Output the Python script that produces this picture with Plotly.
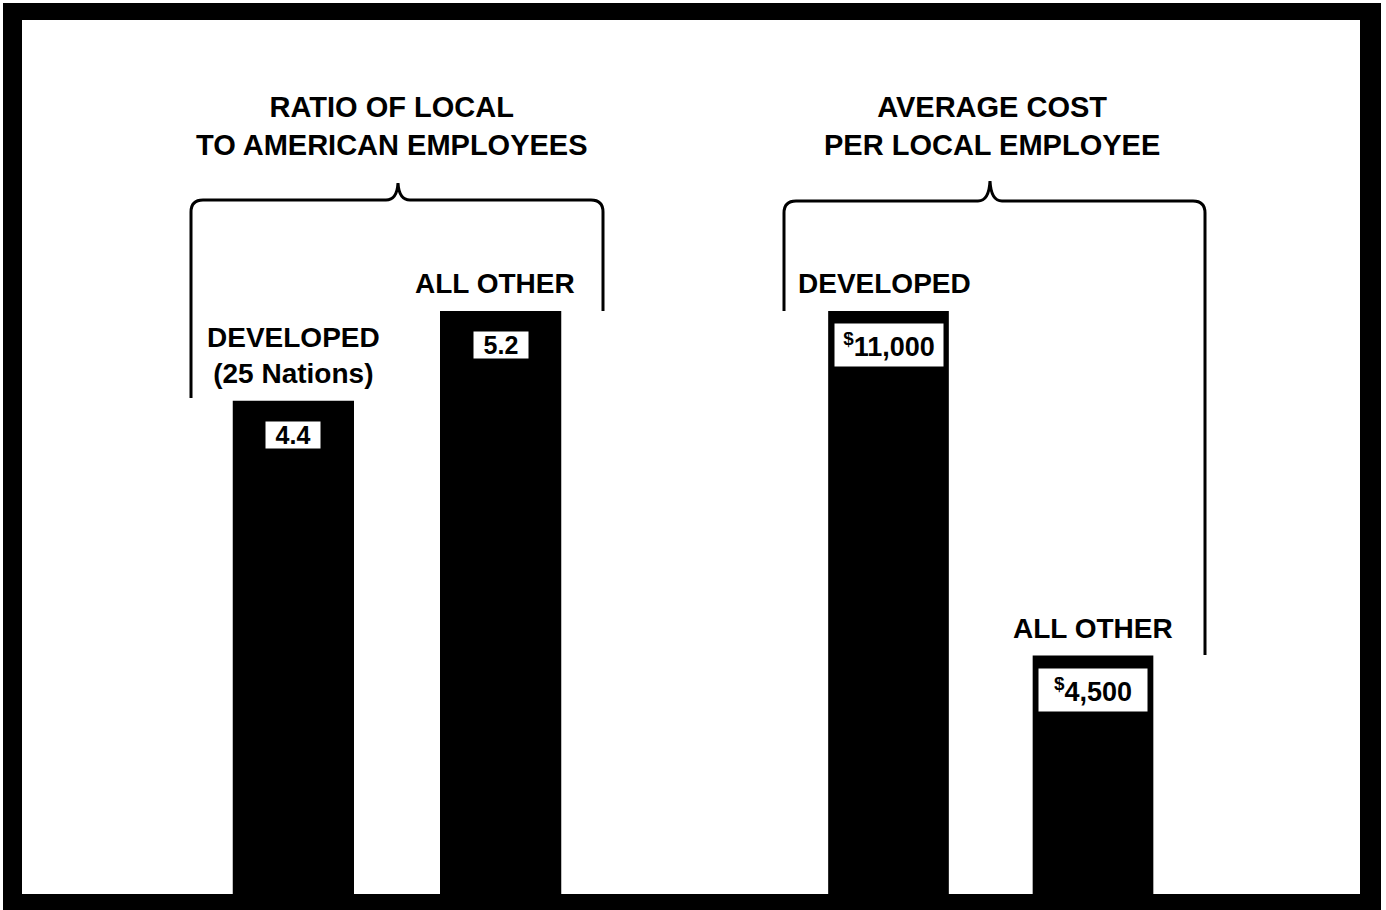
import plotly.graph_objects as go

# ---- data ----
ratio_categories = ["DEVELOPED", "ALL OTHER"]
ratio_values = [4.4, 5.2]
ratio_labels = ["4.4", "5.2"]
ratio_cat_text = ["DEVELOPED<br>(25 Nations)", "ALL OTHER"]

cost_categories = ["DEVELOPED", "ALL OTHER"]
cost_values = [11000, 4500]
cost_labels = ["<sup>$</sup>11,000", "<sup>$</sup>4,500"]
cost_cat_text = ["DEVELOPED", "ALL OTHER"]

left_title = "RATIO OF LOCAL<br>TO AMERICAN EMPLOYEES"
right_title = "AVERAGE COST<br>PER LOCAL EMPLOYEE"

# ---- geometry (pixels of the 1386x910 canvas) ----
W, H = 1386, 910
FONT = "Liberation Sans"


def px(x):
    return x / W


def py(y):
    return 1 - y / H


base_y = 894
top_y = 20
tallest_px = 583  # pixel height of tallest bar in each panel
ratio_range = [0, (base_y - top_y) * max(ratio_values) / tallest_px]
cost_range = [0, (base_y - top_y) * max(cost_values) / tallest_px]

fig = go.Figure()
fig.add_trace(go.Bar(x=ratio_categories, y=ratio_values, xaxis="x", yaxis="y",
                     marker=dict(color="black", line=dict(width=0)), width=0.585,
                     hoverinfo="skip", showlegend=False))
fig.add_trace(go.Bar(x=cost_categories, y=cost_values, xaxis="x2", yaxis="y2",
                     marker=dict(color="black", line=dict(width=0)), width=0.59,
                     hoverinfo="skip", showlegend=False))

ax_common = dict(visible=False, showgrid=False, zeroline=False, fixedrange=True)
fig.update_layout(
    width=W, height=H, autosize=False,
    margin=dict(l=0, r=0, t=0, b=0),
    paper_bgcolor="white", plot_bgcolor="white",
    xaxis=dict(domain=[px(189.75), px(604.25)], anchor="y", **ax_common),
    yaxis=dict(domain=[py(base_y), py(top_y)], range=ratio_range, anchor="x", **ax_common),
    xaxis2=dict(domain=[px(786.25), px(1195.25)], anchor="y2", **ax_common),
    yaxis2=dict(domain=[py(base_y), py(top_y)], range=cost_range, anchor="x2", **ax_common),
    font=dict(family=FONT, color="black"),
)

annotations = []
# titles
annotations.append(dict(text=left_title, x=px(392), y=py(126), xref="paper", yref="paper",
                        showarrow=False, xanchor="center", yanchor="middle",
                        font=dict(size=29, family=FONT, weight="bold"), align="center"))
annotations.append(dict(text=right_title, x=px(992), y=py(126), xref="paper", yref="paper",
                        showarrow=False, xanchor="center", yanchor="middle",
                        font=dict(size=29, family=FONT, weight="bold"), align="center"))

# category labels and value labels
panels = [
    (ratio_categories, ratio_values, ratio_labels, ratio_cat_text, "x", "y",
     dict(size=25, w=54, h=26), [0, -6]),
    (cost_categories, cost_values, cost_labels, cost_cat_text, "x2", "y2",
     dict(size=27, w=108, h=42), [-4, 0]),
]
for cats, vals, labs, ctext, xr, yr, box, xshifts in panels:
    for c, v, lab, ct, xs in zip(cats, vals, labs, ctext, xshifts):
        annotations.append(dict(text=ct, x=c, y=v, xref=xr, yref=yr, showarrow=False,
                                xanchor="center", yanchor="bottom", yshift=10, xshift=xs,
                                font=dict(size=28, family=FONT, weight="bold"),
                                align="center"))
        annotations.append(dict(text=lab, x=c, y=v, xref=xr, yref=yr, showarrow=False,
                                xanchor="center", yanchor="middle", yshift=-34,
                                width=box["w"], height=box["h"], align="center",
                                valign="middle", bgcolor="white", borderpad=0,
                                font=dict(size=box["size"], family=FONT,
                                          weight="bold", color="black")))
fig.update_layout(annotations=annotations)


# braces
def brace(x0, x1, xc, ytop, ypeak, yl, yr, r=12):
    pts = []
    pts.append(f"M {px(x0)},{py(yl)}")
    pts.append(f"L {px(x0)},{py(ytop + r)}")
    pts.append(f"Q {px(x0)},{py(ytop)} {px(x0 + r)},{py(ytop)}")
    pts.append(f"L {px(xc - 12)},{py(ytop)}")
    pts.append(f"Q {px(xc - 1)},{py(ytop)} {px(xc)},{py(ypeak)}")
    pts.append(f"Q {px(xc + 1)},{py(ytop)} {px(xc + 12)},{py(ytop)}")
    pts.append(f"L {px(x1 - r)},{py(ytop)}")
    pts.append(f"Q {px(x1)},{py(ytop)} {px(x1)},{py(ytop + r)}")
    pts.append(f"L {px(x1)},{py(yr)}")
    return " ".join(pts)


shapes = [
    dict(type="path", path=brace(191, 603, 398, 200, 183, 398, 311),
         xref="paper", yref="paper", line=dict(color="black", width=3)),
    dict(type="path", path=brace(784, 1205, 990, 201, 181, 311, 655),
         xref="paper", yref="paper", line=dict(color="black", width=3)),
]
# frame
for (x0, y0, x1, y1) in [(3, 3, 1381, 20), (3, 894, 1381, 910), (3, 3, 22, 910), (1360, 3, 1381, 910)]:
    shapes.append(dict(type="rect", xref="paper", yref="paper",
                       x0=px(x0), x1=px(x1), y0=py(y1), y1=py(y0),
                       fillcolor="black", line=dict(width=0), layer="above"))
fig.update_layout(shapes=shapes)

fig.write_html("out.html", config={"displayModeBar": False},
               post_script="document.body.style.margin='0';document.body.style.padding='0';"
                           "document.body.style.overflow='hidden';")
